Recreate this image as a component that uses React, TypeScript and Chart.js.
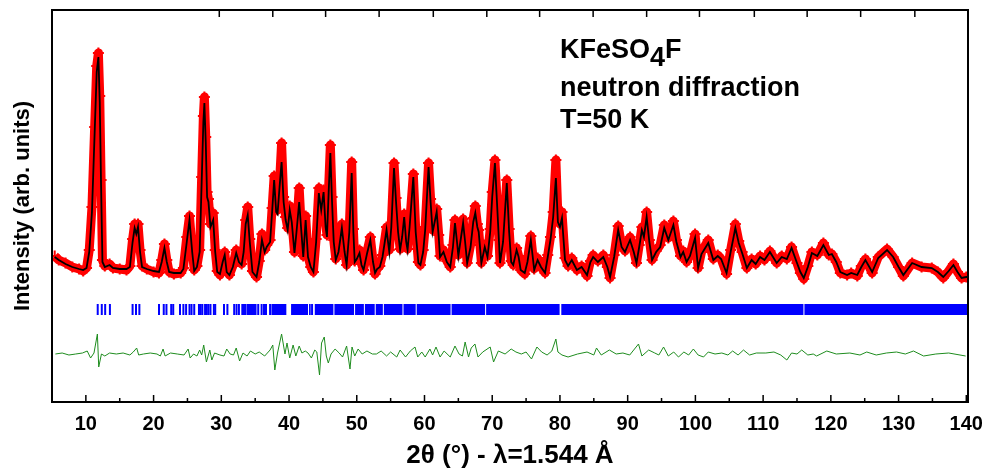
import React, { useEffect, useRef } from "react";
import { Chart, registerables } from "chart.js";

Chart.register(...registerables);

// ---- Profile (2θ in degrees, intensity in arbitrary units) ----
const twoTheta = [
  5.4, 6.0, 7.0, 8.0, 9.0, 9.6, 10.1, 10.5, 10.9, 11.3,
  11.6, 11.85, 12.05, 12.25, 12.45, 12.8, 13.5, 14.0, 15.0, 16.0,
  16.5, 16.9, 17.2, 17.45, 17.7, 18.0, 18.3, 19.0, 20.0, 20.8,
  21.2, 21.6, 21.95, 22.3, 23.0, 24.0, 24.4, 24.9, 25.3, 25.7,
  26.0, 26.4, 26.8, 27.1, 27.35, 27.5, 27.7, 27.9, 28.1, 28.4,
  28.8, 29.1, 29.4, 29.8, 30.2, 30.5, 30.8, 31.2, 31.7, 32.2,
  32.6, 33.0, 33.3, 33.6, 33.9, 34.2, 34.6, 35.2, 35.6, 36.0,
  36.4, 36.7, 37.2, 37.5, 37.8, 38.1, 38.3, 38.6, 38.9, 39.2,
  39.5, 39.8, 40.1, 40.4, 40.8, 41.1, 41.5, 41.8, 42.1, 42.45,
  42.8, 43.2, 43.6, 44.0, 44.4, 44.75, 45.1, 45.4, 45.6, 45.85,
  46.1, 46.35, 46.6, 46.9, 47.3, 47.8, 48.2, 48.5, 48.9, 49.25,
  49.5, 49.7, 50.0, 50.4, 50.7, 51.0, 51.5, 52.0, 52.4, 52.7,
  53.0, 53.4, 53.8, 54.4, 54.8, 55.1, 55.5, 55.8, 56.1, 56.4,
  56.7, 57.0, 57.3, 57.5, 57.8, 58.35, 58.7, 59.1, 59.4, 59.8,
  60.1, 60.6, 60.9, 61.2, 61.8, 62.1, 62.3, 62.8, 63.3, 63.8,
  64.2, 64.5, 64.8, 65.0, 65.4, 65.7, 66.0, 66.3, 66.8, 67.2,
  67.5, 67.8, 68.0, 68.4, 68.9, 69.3, 69.7, 70.0, 70.4, 70.7,
  71.0, 71.15, 71.6, 72.15, 72.5, 72.8, 73.1, 73.6, 73.9, 74.2,
  74.8, 75.2, 75.7, 76.2, 76.7, 77.2, 77.8, 78.2, 78.6, 79.0,
  79.4, 79.7, 80.0, 80.3, 80.75, 81.2, 81.75, 82.5, 83.2, 84.0,
  84.5, 84.9, 85.6, 86.4, 87.0, 87.4, 88.0, 88.6, 89.1, 89.6,
  90.35, 90.9, 91.3, 91.7, 92.1, 92.4, 92.8, 93.2, 93.6, 94.2,
  94.8, 95.4, 96.0, 96.75, 97.2, 97.8, 98.2, 98.7, 99.2, 99.95,
  100.4, 100.9, 101.9, 102.65, 103.3, 103.8, 104.6, 105.2, 105.9, 106.4,
  106.9, 107.6, 108.3, 108.9, 109.55, 110.2, 111.0, 112.0, 112.75, 113.5,
  114.2, 115.0, 115.5, 116.0, 116.6, 117.2, 118.0, 118.9, 119.7, 120.15,
  120.8, 121.4, 122.4, 123.0, 123.9, 124.5, 125.1, 125.6, 126.1, 127.0,
  128.3, 129.2, 130.0, 130.7, 132.0, 133.4, 134.9, 135.8, 136.6, 137.4,
  138.1, 138.7, 139.3, 140.0, 140.4,
];

const yCalc = [
  145, 142, 138, 135, 133, 132, 134, 150, 190, 270,
  330, 345, 300, 215, 140, 135, 137, 134, 133, 133,
  135, 160, 174, 168, 175, 150, 135, 133, 131, 130,
  140, 154, 140, 130, 129, 129, 133, 160, 182, 150,
  131, 135, 150, 220, 280, 299, 260, 205, 200, 175,
  182, 150, 130, 128, 140, 147, 130, 127, 135, 149,
  140, 137, 150, 178, 187, 160, 130, 125, 140, 162,
  150, 155, 160, 190, 222, 190, 188, 215, 240, 200,
  182, 172, 192, 180, 149, 170, 200, 172, 145, 182,
  145, 135, 130, 160, 209, 192, 210, 175, 165, 210,
  249, 200, 160, 142, 150, 174, 150, 137, 170, 229,
  170, 140, 143, 149, 137, 132, 148, 162, 140, 129,
  133, 135, 145, 172, 150, 175, 234, 200, 170, 152,
  165, 185, 160, 152, 175, 225, 170, 139, 137, 150,
  172, 235, 200, 170, 190, 165, 145, 150, 140, 135,
  155, 179, 160, 146, 165, 179, 160, 139, 155, 180,
  189, 175, 170, 139, 155, 145, 170, 205, 239, 200,
  160, 139, 160, 219, 170, 140, 137, 152, 145, 132,
  129, 140, 162, 132, 142, 135, 129, 145, 162, 185,
  224, 180, 175, 184, 142, 136, 142, 132, 135, 127,
  140, 145, 140, 145, 135, 125, 145, 172, 155, 150,
  162, 150, 139, 155, 172, 165, 185, 160, 142, 150,
  155, 174, 162, 177, 160, 145, 150, 140, 146, 164,
  134, 148, 159, 142, 146, 143, 129, 150, 174, 159,
  149, 134, 142, 138, 145, 142, 150, 139, 145, 143,
  154, 139, 130, 124, 135, 149, 146, 157, 147, 148,
  140, 130, 127, 129, 127, 135, 142, 136, 130, 144,
  152, 145, 135, 127, 139, 135, 134, 130, 125, 131,
  137, 130, 124, 125, 125,
];

const yObs = [
  146, 142, 139, 135, 133, 131, 134, 152, 195, 275,
  336, 349, 306, 222, 142, 136, 138, 134, 133, 132,
  136, 163, 178, 172, 178, 152, 136, 133, 130, 129,
  142, 158, 142, 130, 128, 129, 134, 165, 186, 152,
  132, 136, 152, 225, 286, 305, 265, 210, 203, 178,
  189, 152, 131, 127, 142, 150, 131, 127, 136, 152,
  141, 138, 152, 182, 195, 163, 131, 125, 141, 168,
  152, 157, 162, 194, 226, 193, 192, 220, 259, 205,
  185, 174, 196, 182, 150, 173, 214, 175, 146, 186,
  146, 135, 130, 163, 214, 195, 212, 178, 167, 215,
  257, 205, 162, 143, 152, 178, 152, 137, 175, 240,
  173, 141, 145, 152, 138, 132, 150, 165, 141, 128,
  133, 136, 147, 175, 152, 178, 239, 204, 172, 153,
  167, 188, 162, 153, 178, 228, 173, 140, 137, 152,
  175, 239, 203, 172, 193, 167, 146, 152, 141, 135,
  157, 182, 162, 147, 168, 183, 162, 139, 157, 184,
  196, 178, 172, 139, 157, 146, 173, 210, 242, 203,
  162, 139, 163, 222, 173, 141, 137, 154, 146, 132,
  128, 142, 166, 133, 144, 135, 129, 147, 165, 190,
  242, 185, 178, 190, 144, 136, 144, 132, 136, 126,
  141, 147, 141, 147, 135, 124, 147, 176, 157, 151,
  165, 151, 139, 157, 175, 167, 190, 162, 142, 151,
  157, 177, 164, 181, 162, 146, 151, 140, 147, 168,
  134, 150, 162, 143, 147, 143, 128, 152, 178, 161,
  150, 134, 143, 138, 146, 142, 151, 139, 146, 143,
  155, 139, 129, 123, 136, 150, 147, 159, 147, 148,
  140, 129, 127, 129, 126, 136, 143, 136, 129, 145,
  153, 145, 135, 126, 139, 135, 134, 130, 124, 131,
  138, 130, 124, 125, 125,
];

// ---- Difference curve (Iobs - Icalc), plotted with an offset ----
const DIFF_OFFSET = 48;
const diffTheta = [
  5.5, 6.5, 7.5, 8.5, 9.5, 10.2, 10.7, 11.2, 11.7, 11.9,
  12.3, 12.8, 13.5, 14.5, 15.5, 16.5, 17.0, 17.5, 17.8, 18.5,
  19.5, 20.5, 21.0, 21.4, 21.7, 22.5, 23.5, 24.5, 25.1, 25.4,
  25.9, 26.4, 26.8, 27.1, 27.4, 27.8, 28.3, 28.6, 29.0, 29.8,
  30.4, 30.8, 31.3, 31.8, 32.2, 32.7, 33.2, 33.8, 34.3, 35.0,
  35.6, 36.4, 37.2, 37.6, 37.9, 38.3, 38.9, 39.2, 39.4, 39.7,
  40.1, 40.6, 41.0, 41.5, 41.9, 42.4, 42.8, 43.3, 43.8, 44.1,
  44.5, 44.8, 45.2, 45.5, 45.8, 46.2, 46.8, 47.4, 47.9, 48.5,
  49.0, 49.3, 49.7, 50.2, 50.8, 51.5, 52.3, 52.9, 53.6, 54.4,
  55.0, 55.9, 56.4, 57.2, 57.9, 58.6, 59.0, 59.6, 60.1, 60.8,
  61.2, 61.7, 62.3, 62.9, 63.8, 64.5, 65.1, 65.6, 66.0, 66.5,
  66.9, 67.45, 67.9, 68.6, 69.7, 70.2, 70.9, 71.9, 72.8, 73.5,
  74.3, 75.0, 75.8, 76.6, 77.3, 78.1, 78.8, 79.4, 79.7, 80.3,
  81.2, 82.6, 84.0, 85.0, 85.4, 86.1, 87.3, 88.3, 89.3, 90.3,
  91.6, 92.1, 93.1, 94.0, 94.6, 95.3, 96.0, 96.8, 97.5, 98.3,
  99.0, 99.7, 100.4, 101.2, 101.9, 102.9, 103.9, 104.8, 105.5, 106.3,
  107.1, 108.0, 109.0, 110.4, 111.6, 112.6, 113.5, 114.2, 115.0, 115.7,
  116.6, 117.4, 117.9, 119.4, 120.8, 122.8, 124.3, 125.3, 126.7, 128.2,
  129.7, 131.0, 132.2, 133.7, 135.5, 137.4, 139.9,
];
const diffValues = [
  0, 1, -1, 0, 1, 3, -4, 1, 20, -13,
  0, -2, 1, 0, 1, -1, 2, 6, -1, 0,
  1, 0, -2, 5, -2, 1, 0, -1, 5, -4,
  0, -2, 4, -1, 9, -8, 4, -6, 1, -1,
  -2, 5, 0, -1, 6, -7, 1, -2, 3, 0,
  2, -2, 4, 9, -16, 1, 20, 8, 0, 11,
  -4, 9, -2, 8, 1, 3, 1, -4, 4, 2,
  -21, 11, 17, -2, -9, 0, 5, 1, -3, 8,
  -15, 7, -2, 5, 0, 3, 0, 0, 3, -2,
  2, -3, 4, -3, 3, 7, -3, 2, -3, 5,
  -1, 7, -3, 3, -3, 8, 0, -2, 12, -3,
  6, 10, -3, 2, 7, -8, 3, 0, 5, 2,
  0, 2, -5, 7, 2, -1, 3, 15, 2, -1,
  -3, 0, 2, -1, 6, -1, 4, 0, 1, -1,
  10, -2, 4, 1, -1, 7, -2, 2, -3, 2,
  -1, 5, -1, -3, 2, 0, 1, -1, 3, -1,
  4, -1, 1, 1, 2, -1, -6, 1, 0, 4,
  -1, 0, -2, 3, 0, 1, -1, 2, -1, 1,
  2, 0, 3, -2, 0, 1, -2,
];

// ---- Bragg reflection positions ----
const BRAGG_LEVEL = 92.5;
const braggTicks = [
  11.75, 12.35, 12.85, 13.55, 16.9, 17.4, 17.9, 20.8, 21.5, 21.9,
  22.6, 22.9, 23.9, 24.4, 24.8, 25.3, 25.6, 26.0, 26.7, 26.95,
  27.2, 27.6, 27.85, 28.1, 28.4, 28.9, 29.1, 30.4, 30.9, 31.9,
  32.25, 32.6, 33.1, 33.3, 33.5, 35.45, 35.95, 36.3, 36.6, 37.2,
  43.4,
];
const braggBandStart = [33.7, 37.4, 40.3, 42.95, 43.8, 46.7, 49.75, 51.2, 52.8, 54.0, 56.9, 58.85, 64.0, 69.1, 80.2, 116.1];
const braggBandEnd = [35.2, 39.6, 42.8, 43.2, 46.55, 49.6, 51.05, 52.65, 53.85, 56.75, 58.7, 63.85, 68.95, 79.95, 115.95, 140.3];

// ---- Axes ----
const X_MIN = 5;
const X_MAX = 140.25;
const Y_MIN = 0;
const Y_MAX = 392;
const xTickValues = [10, 20, 30, 40, 50, 60, 70, 80, 90, 100, 110, 120, 130, 140];
const xMinorTickValues = [15, 25, 35, 45, 55, 65, 75, 85, 95, 105, 115, 125, 135];
const topTickValues = [29.7, 37.6, 45.4, 53.3, 61.3, 69.2, 77.0, 84.9, 92.8, 100.6, 108.7, 116.5, 124.4, 132.4];

const xTitle = "2θ (°) - λ=1.544 Å";
const yTitle = "Intensity (arb. units)";
const labelCompound = ["KFeSO", "4", "F"];
const labelLines = ["neutron diffraction", "T=50 K"];

const FONT = '"Liberation Sans", Arial, Helvetica, sans-serif';

const decorPlugin = {
  id: "decor",
  afterDraw(chart: any) {
    const { ctx, chartArea: a, scales } = chart;
    const xs = scales.x;
    ctx.save();
    ctx.strokeStyle = "#000";
    ctx.lineWidth = 1.5;
    ctx.beginPath();
    for (const v of xTickValues) {
      const p = xs.getPixelForValue(v);
      ctx.moveTo(p, a.bottom);
      ctx.lineTo(p, a.bottom - 7);
    }
    for (const v of xMinorTickValues) {
      const p = xs.getPixelForValue(v);
      ctx.moveTo(p, a.bottom);
      ctx.lineTo(p, a.bottom - 4);
    }
    for (const v of topTickValues) {
      const p = xs.getPixelForValue(v);
      ctx.moveTo(p, a.top);
      ctx.lineTo(p, a.top + 7);
    }
    ctx.stroke();
    ctx.lineWidth = 2;
    ctx.strokeRect(a.left, a.top, a.right - a.left, a.bottom - a.top);

    ctx.fillStyle = "#000";
    ctx.font = `bold 27px ${FONT}`;
    ctx.textBaseline = "alphabetic";
    ctx.textAlign = "left";
    const x0 = 560;
    let x = x0;
    ctx.fillText(labelCompound[0], x, 58);
    x += ctx.measureText(labelCompound[0]).width;
    ctx.fillText(labelCompound[1], x, 66);
    x += ctx.measureText(labelCompound[1]).width;
    ctx.fillText(labelCompound[2], x, 58);
    ctx.fillText(labelLines[0], x0, 96);
    ctx.fillText(labelLines[1], x0, 128);
    ctx.restore();
  },
};

export default function App() {
  const ref = useRef<HTMLCanvasElement | null>(null);

  useEffect(() => {
    if (!ref.current) return;
    const calcData = twoTheta.map((t, i) => ({ x: t, y: yCalc[i] }));
    const obsData = twoTheta.map((t, i) => ({ x: t, y: yObs[i] }));
    const diffData = diffTheta.map((t, i) => ({ x: t, y: DIFF_OFFSET + diffValues[i] }));
    const tickData = braggTicks.map((t) => ({ x: t, y: BRAGG_LEVEL }));
    const bandData: any[] = [];
    braggBandStart.forEach((s, i) => {
      bandData.push({ x: s, y: BRAGG_LEVEL });
      bandData.push({ x: braggBandEnd[i], y: BRAGG_LEVEL });
      bandData.push({ x: braggBandEnd[i] + 0.01, y: null });
    });

    const chart = new Chart(ref.current, {
      type: "line",
      data: {
        datasets: [
          {
            label: "Calculated",
            data: calcData,
            borderColor: "#000000",
            borderWidth: 1.8,
            pointRadius: 0,
            tension: 0,
            order: 0,
          },
          {
            label: "Observed",
            data: obsData,
            borderColor: "#ff0000",
            borderWidth: 9,
            borderJoinStyle: "round",
            pointStyle: "cross",
            pointRadius: 5.5,
            pointBorderWidth: 2,
            pointBorderColor: "#ff0000",
            pointBackgroundColor: "#ff0000",
            tension: 0,
            order: 1,
          },
          {
            label: "Bragg (dense)",
            data: bandData,
            borderColor: "#0000ff",
            borderWidth: 11,
            borderCapStyle: "butt",
            pointRadius: 0,
            spanGaps: false,
            order: 2,
          },
          {
            label: "Bragg",
            data: tickData,
            showLine: false,
            pointStyle: "line",
            rotation: 90,
            pointRadius: 5.5,
            pointBorderWidth: 2,
            pointBorderColor: "#0000ff",
            borderColor: "#0000ff",
            order: 2,
          },
          {
            label: "Difference",
            data: diffData,
            borderColor: "#1e8c1e",
            borderWidth: 1,
            pointRadius: 0,
            tension: 0,
            order: 2,
          },
        ] as any,
      },
      options: {
        animation: false,
        responsive: false,
        events: [],
        layout: { padding: { left: 0, right: 22, top: 10, bottom: 0 } },
        plugins: { legend: { display: false }, tooltip: { enabled: false } },
        scales: {
          x: {
            type: "linear",
            min: X_MIN,
            max: X_MAX,
            position: "bottom",
            grid: { display: false },
            border: { display: false },
            afterBuildTicks: (s: any) => {
              s.ticks = xTickValues.map((v) => ({ value: v }));
            },
            afterFit: (s: any) => {
              s.height = 72;
            },
            ticks: {
              color: "#000",
              padding: 2,
              maxRotation: 0,
              autoSkip: false,
              font: { family: FONT, size: 20, weight: "bold" },
            },
            title: {
              display: true,
              text: xTitle,
              color: "#000",
              font: { family: FONT, size: 26, weight: "bold" },
              padding: { top: 0, bottom: 3 },
            },
          },
          y: {
            type: "linear",
            min: Y_MIN,
            max: Y_MAX,
            grid: { display: false },
            border: { display: false },
            ticks: { display: false },
            afterFit: (s: any) => {
              s.width = 52;
            },
            title: {
              display: true,
              text: yTitle,
              color: "#000",
              font: { family: FONT, size: 22, weight: "bold" },
              padding: { top: 10, bottom: 0 },
            },
          },
        },
      } as any,
      plugins: [decorPlugin],
    });
    return () => chart.destroy();
  }, []);

  return (
    <div style={{ position: "absolute", left: 0, top: 0, width: 990, height: 474, background: "#fff" }}>
      <canvas ref={ref} width={990} height={474} style={{ width: 990, height: 474 }} />
    </div>
  );
}
